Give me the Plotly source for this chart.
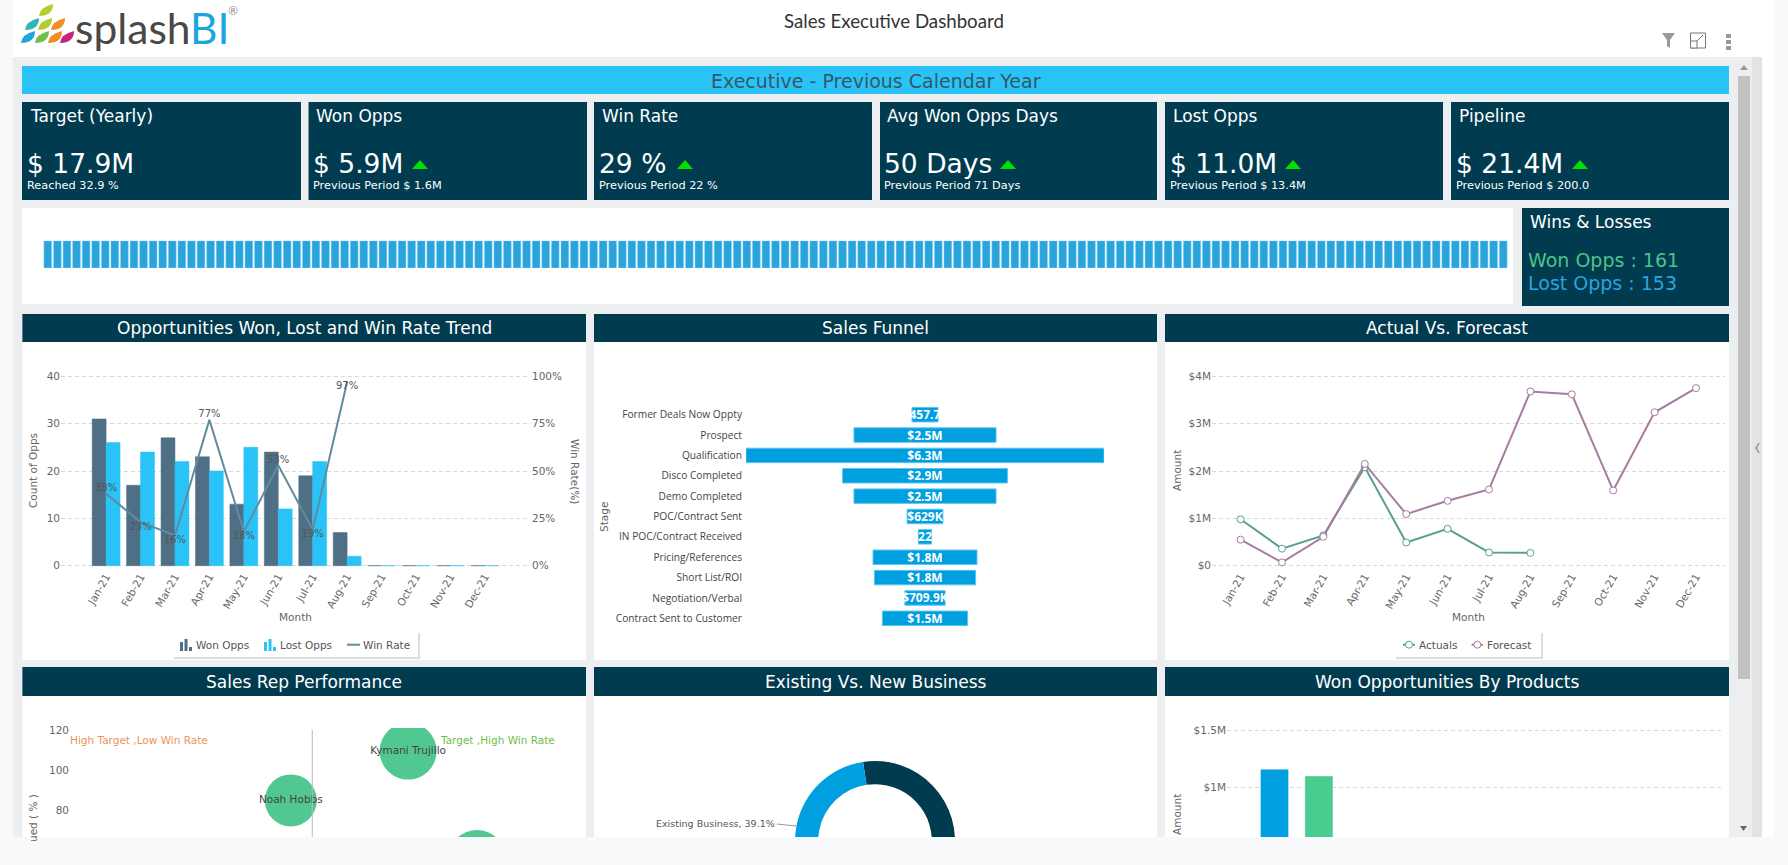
import plotly.graph_objects as go

W, H = 1788, 1000
DARK = '#003b4f'
SKY = '#29c3f7'
FONT = 'DejaVu Sans'

months = ['Jan-21', 'Feb-21', 'Mar-21', 'Apr-21', 'May-21', 'Jun-21',
          'Jul-21', 'Aug-21', 'Sep-21', 'Oct-21', 'Nov-21', 'Dec-21']
won_opps = [31, 17, 27, 23, 13, 24, 19, 7, 0, 0, 0, 0]
lost_opps = [26, 24, 22, 20, 25, 12, 22, 2, 0, 0, 0, 0]
win_rate = [38, 23, 16, 77, 18, 53, 19, 97]
win_rate_pos = ['top center', 'bottom center', 'bottom center', 'top center',
                'bottom center', 'top center', 'bottom center', 'bottom center']

stages = ['Former Deals Now Oppty', 'Prospect', 'Qualification', 'Disco Completed',
          'Demo Completed', 'POC/Contract Sent', 'IN POC/Contract Received',
          'Pricing/References', 'Short List/ROI', 'Negotiation/Verbal',
          'Contract Sent to Customer']
stage_values = [0.4577, 2.5, 6.3, 2.9, 2.5, 0.629, 0.232, 1.83, 1.78, 0.7099, 1.5]
stage_labels = ['457.7', '$2.5M', '$6.3M', '$2.9M', '$2.5M', '$629K', '22',
                '$1.8M', '$1.8M', '$709.9K', '$1.5M']

actuals = [0.98, 0.36, 0.64, 2.08, 0.49, 0.78, 0.28, 0.27]
forecast = [0.55, 0.07, 0.61, 2.15, 1.09, 1.37, 1.61, 3.68, 3.62, 1.59, 3.24, 3.75]

reps = ['Kymani Trujillo', 'Noah Hobbs', '']
rep_win_rate = [66.3, 43.3, 79.8]
rep_achieved = [109.5, 85, 55.8]
rep_size = [57, 52, 58]

business_types = ['New Business', 'Existing Business']
business_share = [60.9, 39.1]

products = ['Product 1', 'Product 2']
product_amount = [1.158, 1.099]

strip_values = [1] * 153

kpi_titles = ['Target (Yearly)', 'Won Opps', 'Win Rate', 'Avg Won Opps Days', 'Lost Opps', 'Pipeline']
kpi_values = ['$ 17.9M', '$ 5.9M', '29 %', '50 Days', '$ 11.0M', '$ 21.4M']
kpi_notes = ['Reached 32.9 %', 'Previous Period $ 1.6M', 'Previous Period 22 %',
             'Previous Period 71 Days', 'Previous Period $ 13.4M', 'Previous Period $ 200.0']


def fx(x):
    return x / W


def fy(y):
    return 1 - y / H


shapes = []
annots = []


def rect(x0, y0, x1, y1, color, layer='below', line=None):
    shapes.append(dict(type='rect', xref='paper', yref='paper', layer=layer,
                       x0=fx(x0), x1=fx(x1), y0=fy(y0), y1=fy(y1), fillcolor=color,
                       line=dict(width=1 if line else 0, color=line or color)))


def poly(points, color, close=True, width=0, layer='below'):
    path = 'M' + ' L'.join('%.5f,%.5f' % (fx(x), fy(y)) for x, y in points)
    if close:
        path += ' Z'
    shapes.append(dict(type='path', xref='paper', yref='paper', layer=layer, path=path,
                       fillcolor=color if close else 'rgba(0,0,0,0)',
                       line=dict(width=width, color=color)))


def text(x, y, s, size=11, color='#666', anchor='left', family=FONT, angle=0):
    # annotations carry a little padding, take it back so x is the ink edge
    x += {'left': -2.5, 'right': 2.5, 'center': 0}[anchor]
    annots.append(dict(xref='paper', yref='paper', x=fx(x), y=fy(y), text=s, showarrow=False,
                       xanchor=anchor, yanchor='middle', textangle=angle,
                       font=dict(size=size, color=color, family=family)))


def petal(cx, cy, color):
    # teardrop leaning right, same shape for every logo leaf
    path = ('M%.5f,%.5f Q%.5f,%.5f %.5f,%.5f Q%.5f,%.5f %.5f,%.5f Z'
            % (fx(cx - 7), fy(cy + 6), fx(cx - 6), fy(cy - 3), fx(cx + 7), fy(cy - 6),
               fx(cx + 7), fy(cy + 6), fx(cx - 7), fy(cy + 6)))
    shapes.append(dict(type='path', xref='paper', yref='paper', layer='below', path=path,
                       fillcolor=color, line=dict(width=0)))


def legend_box(x0, x1):
    rect(x0 + 1, 633, x1 + 2, 659, '#dcdcdc')
    rect(x0, 632, x1, 657, '#ffffff')


def bar_icon(x, color):
    for dx, top in [(0, 642), (4.5, 639), (9, 647)]:
        rect(x + dx, top, x + dx + 3, 651, color)


def line_icon(x0, x1, color, marker=False):
    poly([(x0, 644.7), (x1, 644.7)], color, close=False, width=2)
    if marker:
        cx = (x0 + x1) / 2
        shapes.append(dict(type='circle', xref='paper', yref='paper', layer='below',
                           x0=fx(cx - 3.5), x1=fx(cx + 3.5), y0=fy(648.2), y1=fy(641.2),
                           fillcolor='#ffffff', line=dict(color=color, width=1)))


# page frame
rect(13, 0, 1774, 57, '#ffffff')
rect(13, 57, 1752, 837, '#eceeef')
rect(1752, 57, 1762, 837, '#e3e3e3')
rect(1762, 57, 1774, 837, '#ffffff')
rect(1738, 76, 1750, 679, '#c1c1c1')
poly([(1740, 70), (1748, 70), (1744, 65)], '#999')
poly([(1740, 826), (1747, 826), (1743.5, 831)], '#666')
poly([(1759, 443), (1756, 448), (1759, 453)], '#999', close=False, width=1.5)

# logo
for cx, cy, col in [(46, 10, '#b5cc2e'), (32, 24, '#2fb5b0'), (45, 24, '#b5cc2e'), (58, 24, '#f28c28'),
                    (28, 37, '#1ea7dc'), (42, 37, '#6fbf4a'), (55, 37, '#f28c28'), (67, 37, '#c2267e')]:
    petal(cx, cy, col)
annots.append(dict(xref='paper', yref='paper', x=fx(73), y=fy(27), showarrow=False, xanchor='left',
                   yanchor='middle', font=dict(size=42.5, family='Lato', color='#484848'),
                   text='splash<span style="color:#1ba6dc">BI</span>'))
text(233, 10, '®', size=12, color='#888', anchor='center', family='Lato')
text(894, 21.5, 'Sales Executive Dashboard', size=18.7, color='#333', anchor='center', family='Lato')

# toolbar icons
poly([(1662, 33), (1675, 33), (1670, 40), (1670, 48), (1667, 46), (1667, 40)], '#999')
rect(1690.5, 33, 1705.5, 48, 'rgba(0,0,0,0)', line='#777')
rect(1690.5, 41, 1697, 48, '#ffffff', line='#777')
poly([(1697, 41), (1703, 35)], '#777', close=False, width=1)
for y0 in (34, 40, 46):
    rect(1726, y0, 1731, y0 + 4, '#999')

# banner
rect(22, 66, 1729, 94, SKY)
text(876, 81, 'Executive - Previous Calendar Year', size=19, color='#34586a', anchor='center')

# KPI tiles
kpi_x = [(22, 301), (308.5, 587), (594, 872), (880, 1157), (1165, 1443), (1451, 1729)]
title_x = [30, 316, 602, 887, 1173, 1459]
value_x = [27.5, 313, 599, 884.6, 1170, 1456]
arrow_x = [None, 420, 685, 1008, 1293, 1580]
for i, (x0, x1) in enumerate(kpi_x):
    rect(x0, 102, x1, 200, DARK)
    text(title_x[i], 115.5, kpi_titles[i], size=17, color='#fff')
    text(value_x[i], 163, kpi_values[i], size=26.5, color='#fff')
    text(value_x[i], 185, kpi_notes[i], size=11.3, color='#fff')
    if arrow_x[i]:
        ax = arrow_x[i]
        poly([(ax - 8, 169), (ax + 8, 169), (ax, 160)], '#00e000')

# strip and wins/losses
rect(22, 208, 1513, 304, '#ffffff')
rect(1522, 208, 1729, 306, DARK)
text(1530, 221.5, 'Wins &amp; Losses', size=17, color='#fff')
text(1528, 260, 'Won Opps : 161', size=19, color='#4cc38a')
text(1528, 282.5, 'Lost Opps : 153', size=19, color='#2ba4dc')

# chart panels
panels = [(22.4, 586, 'Opportunities Won, Lost and Win Rate Trend'), (594, 1157, 'Sales Funnel'),
          (1165, 1729, 'Actual Vs. Forecast')]
panels2 = [(22.4, 586, 'Sales Rep Performance'), (594, 1157, 'Existing Vs. New Business'),
           (1165, 1729, 'Won Opportunities By Products')]
for x0, x1, t in panels:
    rect(x0, 342, x1, 660, '#ffffff')
    rect(x0, 314, x1, 342, DARK)
    text((x0 + x1) / 2, 327.5, t, size=17, color='#fff', anchor='center')
for x0, x1, t in panels2:
    rect(x0, 696, x1, 1000, '#ffffff')
    rect(x0, 667, x1, 696, DARK)
    text((x0 + x1) / 2, 681.5, t, size=17, color='#fff', anchor='center')

# axis captions
text(33, 471, 'Count of Opps', size=10.5, anchor='center', angle=-90)
text(295.6, 617, 'Month', size=10.5, anchor='center')
text(575, 471, 'Win Rate(%)', size=10.5, anchor='center', angle=90)
text(604, 517, 'Stage', size=10.5, anchor='center', angle=-90)
text(1177, 471, 'Amount', size=10.5, anchor='center', angle=-90)
text(1468, 617, 'Month', size=10.5, anchor='center')
text(33, 818, 'ued ( % )', size=10.5, anchor='center', angle=-90)
text(1177, 815, 'Amount', size=10.5, anchor='center', angle=-90)
text(70.6, 739.7, 'High Target ,Low Win Rate', size=10.5, color='#e8955a')
text(440, 739.7, 'Target ,High Win Rate', size=10.5, color='#6cc04a')
text(774, 823.7, 'Existing Business, 39.1%', size=9.5, color='#555', anchor='right')
poly([(777, 824), (796, 826)], '#999', close=False, width=1)

# legends, drawn by hand because of the small bar glyphs
legend_box(173, 418)
bar_icon(180, '#4f6f87')
text(196, 644.5, 'Won Opps', size=10.5, color='#555')
bar_icon(264, SKY)
text(280, 644.5, 'Lost Opps', size=10.5, color='#555')
line_icon(347, 360, '#5f8c9e')
text(363, 644.5, 'Win Rate', size=10.5, color='#555')
legend_box(1395, 1541)
line_icon(1403, 1415, '#5a9e95', marker=True)
text(1419, 644.5, 'Actuals', size=10.5, color='#555')
line_icon(1471.6, 1483, '#a87ca0', marker=True)
text(1487.6, 644.5, 'Forecast', size=10.5, color='#555')

TICK = dict(size=10.5, color='#666', family=FONT)
GRID = dict(showgrid=True, gridcolor='#d8d8d8', griddash='4px,3px', gridwidth=1, zeroline=False,
            showline=False, ticks='', tickfont=TICK)
CATX = dict(type='category', tickangle=-60, showgrid=False, zeroline=False, showline=False,
            ticks='', tickfont=TICK)

fig = go.Figure()

# chart 1
fig.add_trace(go.Bar(x=months, y=won_opps, name='Won Opps', marker=dict(color='#4f6f87', line=dict(color='#4f6f87', width=0.5)),
                     xaxis='x', yaxis='y', showlegend=False))
fig.add_trace(go.Bar(x=months, y=lost_opps, name='Lost Opps', marker=dict(color=SKY, line=dict(color=SKY, width=0.5)),
                     xaxis='x', yaxis='y', showlegend=False))
fig.add_trace(go.Scatter(x=months[:len(win_rate)], y=win_rate, name='Win Rate', mode='lines+text',
                         text=['%d%%' % v for v in win_rate], textposition=win_rate_pos,
                         textfont=dict(size=10, color='#555', family=FONT),
                         line=dict(color='#5f8c9e', width=2), xaxis='x', yaxis='y2', showlegend=False))

# chart 2
fig.add_trace(go.Funnel(y=stages, x=stage_values, orientation='h', text=stage_labels, textinfo='text',
                        textposition='inside', insidetextanchor='middle', constraintext='none',
                        textfont=dict(size=12, color='#fff', family='Open Sans', weight='bold'),
                        marker=dict(color='#009fe0', line=dict(color='#5cc4ee', width=1)),
                        connector=dict(visible=False), xaxis='x2', yaxis='y3', showlegend=False))

# chart 3
fig.add_trace(go.Scatter(x=months[:len(actuals)], y=actuals, name='Actuals', mode='lines+markers',
                         line=dict(color='#5a9e95', width=2),
                         marker=dict(size=7, color='#fff', line=dict(color='#5a9e95', width=1)),
                         xaxis='x3', yaxis='y4', showlegend=False))
fig.add_trace(go.Scatter(x=months, y=forecast, name='Forecast', mode='lines+markers',
                         line=dict(color='#a87ca0', width=2),
                         marker=dict(size=7, color='#fff', line=dict(color='#a87ca0', width=1)),
                         xaxis='x3', yaxis='y4', showlegend=False))

# chart 4
fig.add_trace(go.Scatter(x=rep_win_rate, y=rep_achieved, text=reps, mode='markers+text', textposition='middle center',
                         textfont=dict(size=10.5, color='#444', family=FONT),
                         marker=dict(size=rep_size, color='#50c890', opacity=1, line=dict(width=0)),
                         xaxis='x4', yaxis='y5', showlegend=False))
shapes.append(dict(type='line', xref='x4', yref='y5', x0=47.5, x1=47.5, y0=25.5, y1=120,
                   line=dict(color='#bbbbbb', width=1)))

# chart 5
fig.add_trace(go.Pie(labels=business_types, values=business_share, hole=0.71, sort=False, direction='clockwise',
                     rotation=-8.6, textinfo='none', showlegend=False,
                     marker=dict(colors=[DARK, '#009fe0']),
                     domain=dict(x=[fx(795), fx(955)], y=[fy(921), fy(761)])))

# chart 6
fig.add_trace(go.Bar(x=products, y=product_amount, marker=dict(color=['#009fe0', '#48cc90']), width=0.63,
                     xaxis='x5', yaxis='y6', showlegend=False))

# strip
fig.add_trace(go.Bar(y=strip_values, marker=dict(color='#2ba4dc', line=dict(color='#7fd0f0', width=0.5)),
                     xaxis='x6', yaxis='y7', showlegend=False))

# fold of the page: everything below is scrolled out of view
rect(0, 837, W, H, '#f8f9fa', layer='above')

# value ranges run 2px past the end ticks, plotly drops gridlines that sit on the axis ends
fig.update_layout(
    width=W, height=H, margin=dict(l=0, r=0, t=0, b=0, pad=0, autoexpand=False), autosize=False,
    paper_bgcolor='#f8f9fa', plot_bgcolor='rgba(0,0,0,0)', showlegend=False,
    barmode='group', bargap=0.19, bargroupgap=0, funnelgap=0.29,
    shapes=shapes, annotations=annots, hovermode=False,
    xaxis=dict(CATX, domain=[fx(61), fx(531)], range=[-1.31, 12.34], anchor='y'),
    yaxis=dict(GRID, domain=[fy(567.7), fy(374.3)], range=[-0.422, 40.422], dtick=10, anchor='x'),
    yaxis2=dict(overlaying='y', side='right', range=[-1.056, 101.056], dtick=25, ticksuffix='%', showgrid=False,
                zeroline=False, showline=False, tickfont=TICK, anchor='x', ticks=''),
    xaxis2=dict(domain=[fx(746), fx(1104)], range=[-3.15, 3.15], visible=False, anchor='y3'),
    yaxis3=dict(domain=[fy(628.5), fy(404.5)], range=[10.5, -0.5], type='category', showgrid=False,
                zeroline=False, showline=False, ticks='', anchor='x2', ticklabelstandoff=3,
                tickfont=dict(size=10.2, color='#444', family='Open Sans')),
    xaxis3=dict(CATX, domain=[fx(1212), fx(1725)], range=[-0.69, 11.7], anchor='y4'),
    yaxis4=dict(GRID, domain=[fy(567.7), fy(374.3)], range=[-0.0422, 4.0422], tickvals=[0, 1, 2, 3, 4],
                ticktext=['$0', '$1M', '$2M', '$3M', '$4M'], anchor='x3'),
    xaxis4=dict(domain=[fx(70), fx(580)], range=[0, 100], visible=False, anchor='y5'),
    yaxis5=dict(domain=[fy(920), fy(728)], range=[25.5, 121], tickvals=[80, 100, 120], showgrid=False,
                zeroline=False, showline=False, ticks='', tickfont=TICK, anchor='x4'),
    xaxis5=dict(domain=[fx(1227), fx(1724)], range=[-1.07, 10.12], type='category', showticklabels=False,
                showgrid=False, zeroline=False, showline=False, ticks='', anchor='y6'),
    yaxis6=dict(GRID, domain=[fy(901.3), fy(728.3)], range=[0, 1.5175], tickvals=[1, 1.5],
                ticktext=['$1M', '$1.5M'], anchor='x5'),
    xaxis6=dict(domain=[fx(43), fx(1508)], range=[-0.5, 152.5], visible=False, anchor='y7'),
    yaxis7=dict(domain=[fy(268), fy(240.7)], range=[0, 1], visible=False, anchor='x6'),
)

fig.write_html('out.html', config=dict(displayModeBar=False),
               post_script="document.body.style.margin='0';document.body.style.overflow='hidden';")
